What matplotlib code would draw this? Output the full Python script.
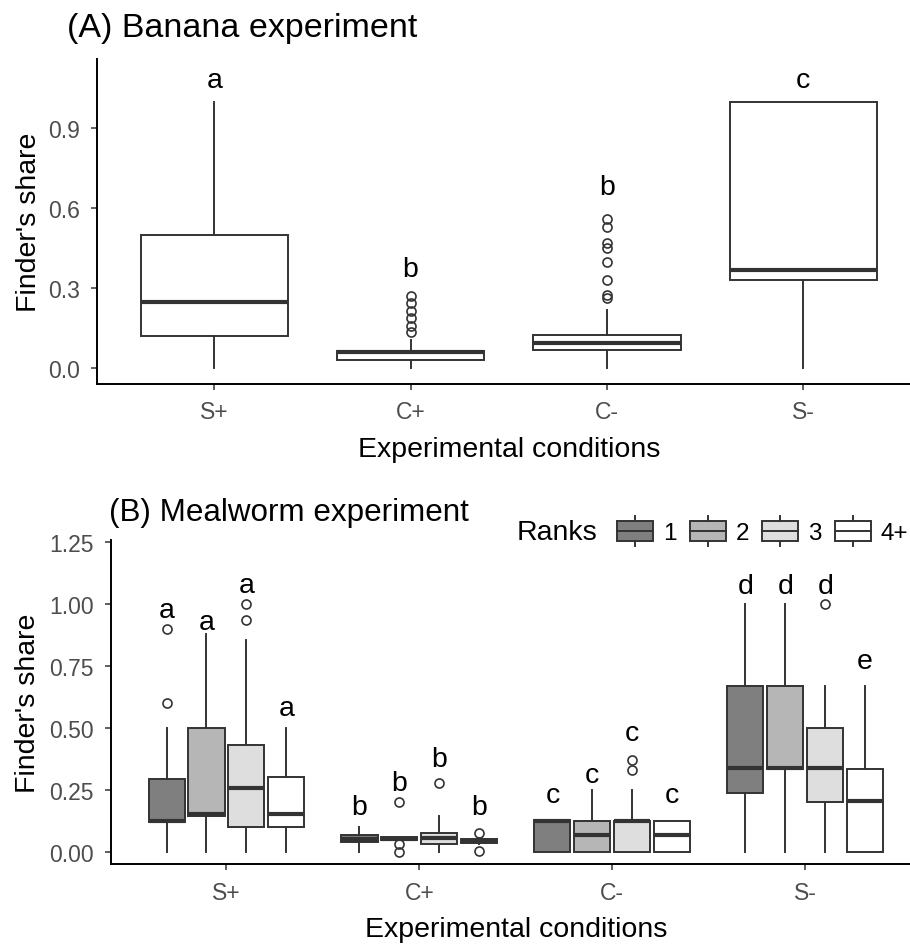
import matplotlib
matplotlib.use('Agg')
import matplotlib.pyplot as plt
from matplotlib.legend_handler import HandlerBase
from matplotlib.patches import Patch, Rectangle
from matplotlib.lines import Line2D

plt.rcParams['font.family'] = ['Liberation Sans', 'DejaVu Sans']

conditions = ['S+', 'C+', 'C-', 'S-']

# (A) banana experiment
banana_lo = [0.0, 0.0, 0.0, 0.0]
banana_q1 = [0.12, 0.03, 0.07, 0.33]
banana_med = [0.25, 0.06, 0.095, 0.37]
banana_q3 = [0.50, 0.065, 0.125, 1.0]
banana_hi = [1.0, 0.105, 0.22, 1.0]
banana_fliers = [[],
                 [0.27, 0.245, 0.215, 0.19, 0.16, 0.135],
                 [0.56, 0.53, 0.47, 0.45, 0.40, 0.33, 0.275, 0.265],
                 []]
banana_letters = ['a', 'b', 'b', 'c']
banana_letter_y = [1.055, 0.345, 0.655, 1.055]

# (B) mealworm experiment: one row per condition, one column per rank
ranks = ['1', '2', '3', '4+']
rank_colors = ['#7f7f7f', '#b6b6b6', '#dedede', '#ffffff']
meal_lo = [[0.0, 0.0, 0.0, 0.0],
           [0.0, 0.045, 0.0, 0.03],
           [0.0, 0.0, 0.0, 0.0],
           [0.0, 0.0, 0.0, 0.0]]
meal_q1 = [[0.12, 0.145, 0.10, 0.10],
           [0.037, 0.047, 0.03, 0.033],
           [0.0, 0.0, 0.0, 0.0],
           [0.235, 0.333, 0.20, 0.0]]
meal_med = [[0.125, 0.152, 0.255, 0.15],
            [0.052, 0.05, 0.055, 0.041],
            [0.125, 0.068, 0.125, 0.068],
            [0.337, 0.337, 0.337, 0.206]]
meal_q3 = [[0.295, 0.50, 0.43, 0.30],
           [0.067, 0.057, 0.074, 0.051],
           [0.127, 0.122, 0.125, 0.122],
           [0.667, 0.667, 0.50, 0.333]]
meal_hi = [[0.5, 0.878, 0.855, 0.5],
           [0.098, 0.06, 0.143, 0.055],
           [0.127, 0.25, 0.25, 0.122],
           [1.0, 1.0, 0.667, 0.667]]
meal_fliers = [[[0.90, 0.60], [], [1.0, 0.935], []],
               [[], [0.2, 0.03, 0.0], [0.278], [0.074, 0.003]],
               [[], [], [0.37, 0.33], []],
               [[], [], [1.0], []]]
meal_letters = [['a', 'a', 'a', 'a'],
                ['b', 'b', 'b', 'b'],
                ['c', 'c', 'c', 'c'],
                ['d', 'd', 'd', 'e']]
meal_letter_y = [[0.949, 0.899, 1.047, 0.551],
                 [0.152, 0.249, 0.345, 0.152],
                 [0.199, 0.28, 0.449, 0.199],
                 [1.044, 1.044, 1.044, 0.74]]

EDGE = '#333333'
box_kw = dict(patch_artist=True, showcaps=False,
              boxprops=dict(edgecolor=EDGE, linewidth=1.4),
              whiskerprops=dict(color=EDGE, linewidth=1.4),
              medianprops=dict(color=EDGE, linewidth=3.0, solid_capstyle='butt'),
              flierprops=dict(marker='o', markersize=6.5, markerfacecolor='none',
                              markeredgecolor=EDGE, markeredgewidth=1.2))


def style_axes(ax, ylabel_pad):
    for s in ['top', 'right']:
        ax.spines[s].set_visible(False)
    for s in ['left', 'bottom']:
        ax.spines[s].set_linewidth(1.4)
        ax.spines[s].set_color('black')
    ax.tick_params(length=4, width=1.1, color=EDGE, labelcolor='#4d4d4d',
                   labelsize=16.5, pad=8)
    ax.set_xlim(0.4, 4.6)
    ax.set_xticks(range(1, 5))
    ax.set_xticklabels(conditions)
    ax.set_xlabel('Experimental conditions', fontsize=20.5, labelpad=9)
    ax.set_ylabel("Finder's share", fontsize=20.5, labelpad=ylabel_pad)


class BoxKey(HandlerBase):
    def create_artists(self, legend, orig_handle, xdescent, ydescent,
                       width, height, fontsize, trans):
        x0, y0 = -xdescent, -ydescent
        bh = height * 0.63
        by = y0 + (height - bh) / 2
        xm = x0 + width / 2
        box = Rectangle((x0, by), width, bh, facecolor=orig_handle.get_facecolor(),
                        edgecolor=EDGE, linewidth=1.4, transform=trans)
        mid = Line2D([x0, x0 + width], [y0 + height / 2] * 2, color=EDGE,
                     linewidth=1.4, transform=trans)
        top = Line2D([xm, xm], [by + bh, y0 + height], color=EDGE,
                     linewidth=1.4, transform=trans)
        bot = Line2D([xm, xm], [y0, by], color=EDGE, linewidth=1.4, transform=trans)
        return [box, mid, top, bot]


fig = plt.figure(figsize=(9.1, 9.45), dpi=100)
W, H = 910, 945

# ---- panel A ----
ax1 = fig.add_axes([96.5 / W, 1 - 384.7 / H, (921 - 96.5) / W, (384.7 - 60) / H])
stats = []
for i in range(4):
    stats.append(dict(whislo=banana_lo[i], q1=banana_q1[i], med=banana_med[i],
                      q3=banana_q3[i], whishi=banana_hi[i], fliers=banana_fliers[i]))
bp = ax1.bxp(stats, positions=range(1, 5), widths=0.75, **box_kw)
for patch in bp['boxes']:
    patch.set_facecolor('white')
for i in range(4):
    ax1.text(i + 1, banana_letter_y[i], banana_letters[i], ha='center',
             va='baseline', fontsize=20.5)
ax1.set_ylim(-0.058, 1.16)
ax1.set_yticks([0.0, 0.3, 0.6, 0.9])
ax1.set_yticklabels(['0.0', '0.3', '0.6', '0.9'])
style_axes(ax1, 4)
fig.text(67 / W, 1 - 29 / H, '(A) Banana experiment', fontsize=24.5, va='center')

# ---- panel B ----
ax2 = fig.add_axes([110.7 / W, 1 - 865 / H, (921 - 110.7) / W, (865 - 541) / H])
slot = 0.207
for r in range(4):
    stats = []
    pos = []
    for c in range(4):
        stats.append(dict(whislo=meal_lo[c][r], q1=meal_q1[c][r], med=meal_med[c][r],
                          q3=meal_q3[c][r], whishi=meal_hi[c][r], fliers=meal_fliers[c][r]))
        pos.append(c + 1 + (r - 1.5) * slot)
    bp = ax2.bxp(stats, positions=pos, widths=0.187, **box_kw)
    for patch in bp['boxes']:
        patch.set_facecolor(rank_colors[r])
    for c in range(4):
        ax2.text(pos[c], meal_letter_y[c][r], meal_letters[c][r], ha='center',
                 va='baseline', fontsize=20.5)
ax2.set_ylim(-0.05, 1.258)
ax2.set_yticks([0.0, 0.25, 0.5, 0.75, 1.0, 1.25])
ax2.set_yticklabels(['0.00', '0.25', '0.50', '0.75', '1.00', '1.25'])
style_axes(ax2, 6)
fig.text(109 / W, 1 - 512.5 / H, '(B) Mealworm experiment', fontsize=22.6, va='center')

handles = [Patch(facecolor=c) for c in rank_colors]
fig.text(517 / W, 1 - 533 / H, 'Ranks', fontsize=20.5, va='center')
fig.legend(handles, ranks, loc='center left', bbox_to_anchor=(617 / W, 1 - 532 / H),
           ncol=4, frameon=False, fontsize=17.5, borderpad=0, borderaxespad=0,
           handlelength=1.48, handleheight=1.56, handletextpad=0.42,
           columnspacing=0.53, handler_map={Patch: BoxKey()})

fig.savefig('out.png', dpi=100)
